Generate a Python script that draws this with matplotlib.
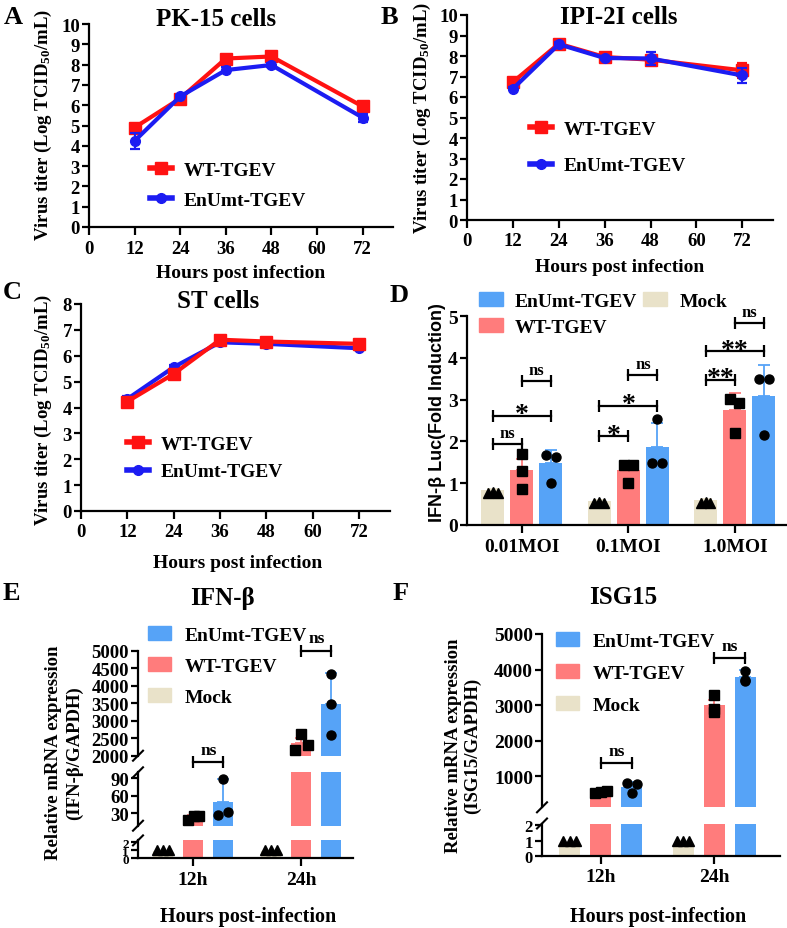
import matplotlib
matplotlib.use('Agg')
import matplotlib.pyplot as plt
from matplotlib.patches import Patch
from matplotlib.lines import Line2D
import numpy as np

# ---------------- data ----------------
hours = [12, 24, 36, 48, 72]

pk15_wt = [4.9, 6.33, 8.3, 8.4, 5.94]
pk15_wt_sd = [0.1, 0.1, 0.1, 0.08, 0.1]
pk15_mut = [4.24, 6.43, 7.73, 7.98, 5.39]
pk15_mut_sd = [0.4, 0.08, 0.15, 0.08, 0.2]

ipi_wt = [6.73, 8.6, 7.95, 7.82, 7.3]
ipi_wt_sd = [0.1, 0.1, 0.08, 0.15, 0.35]
ipi_mut = [6.4, 8.57, 7.9, 7.88, 7.05]
ipi_mut_sd = [0.08, 0.1, 0.08, 0.33, 0.38]

st_wt = [4.23, 5.3, 6.62, 6.55, 6.46]
st_wt_sd = [0.1, 0.15, 0.08, 0.06, 0.08]
st_mut = [4.33, 5.56, 6.52, 6.46, 6.29]
st_mut_sd = [0.12, 0.08, 0.05, 0.05, 0.05]

moi = ['0.01MOI', '0.1MOI', '1.0MOI']
d_mock = [0.83, 0.57, 0.59]
d_mock_sd = [0.03, 0.02, 0.03]
d_mock_pts = [[0.77, 0.80, 0.76], [0.53, 0.55, 0.53], [0.53, 0.56, 0.53]]
d_mock_jit = [[-0.22, 0.0, 0.2], [-0.22, 0.0, 0.2], [-0.22, 0.0, 0.2]]
d_wt = [1.31, 1.32, 2.74]
d_wt_sd = [0.28, 0.21, 0.42]
d_wt_pts = [[1.71, 1.28, 0.87], [1.44, 1.44, 1.01], [3.01, 2.93, 2.21]]
d_wt_jit = [[0.0, 0.0, 0.0], [-0.18, 0.2, 0.0], [-0.2, 0.2, 0.0]]
d_mut = [1.48, 1.86, 3.09]
d_mut_sd = [0.31, 0.58, 0.74]
d_mut_pts = [[1.67, 1.63, 1.01], [2.54, 1.48, 1.49], [3.5, 3.5, 2.15]]
d_mut_jit = [[-0.22, 0.22, 0.0], [0.0, -0.22, 0.2], [-0.22, 0.22, 0.0]]
# (group, bar i, bar j, height, label)
d_brackets = [(0, 0, 1, 1.93, 'ns'), (0, 0, 2, 2.61, '*'), (0, 1, 2, 3.44, 'ns'),
              (1, 0, 1, 2.13, '*'), (1, 0, 2, 2.85, '*'), (1, 1, 2, 3.6, 'ns'),
              (2, 0, 1, 3.48, '**'), (2, 0, 2, 4.16, '**'), (2, 1, 2, 4.84, 'ns')]

times = ['12h', '24h']
e_mock = [0.9, 0.9]
e_mock_sd = [0.05, 0.05]
e_mock_pts = [[1.0, 1.0, 1.0], [1.0, 1.0, 1.0]]
e_mock_jit = [[-0.3, 0.0, 0.3], [-0.3, 0.0, 0.3]]
e_wt = [24, 2360]
e_wt_sd = [4, 140]
e_wt_pts = [[18, 25, 26], [2160, 2620, 2305]]
e_wt_jit = [[-0.25, 0.05, 0.3], [-0.3, 0.0, 0.35]]
e_mut = [50, 3470]
e_mut_sd = [38, 880]
e_mut_pts = [[88, 27, 33], [4330, 3476, 2590]]
e_mut_jit = [[0.0, -0.25, 0.25], [0.0, 0.0, 0.0]]
e_brackets = [(0, 1, 2, 1810, 'ns'), (1, 1, 2, 5000, 'ns')]

f_mock = [0.8, 0.8]
f_mock_sd = [0.05, 0.05]
f_mock_pts = [[1.0, 1.0, 1.0], [1.0, 1.0, 1.0]]
f_mock_jit = [[-0.3, 0.0, 0.3], [-0.3, 0.0, 0.3]]
f_wt = [570, 3000]
f_wt_sd = [60, 150]
f_wt_pts = [[540, 600, 570], [3280, 2900, 2800]]
f_wt_jit = [[-0.3, 0.3, 0.0], [0.0, 0.0, 0.0]]
f_mut = [700, 3780]
f_mut_sd = [150, 220]
f_mut_pts = [[800, 790, 520], [3960, 3700, 3680]]
f_mut_jit = [[-0.25, 0.25, 0.0], [0.0, 0.0, 0.0]]
f_brackets = [(0, 1, 2, 1375, 'ns'), (1, 1, 2, 4316, 'ns')]

# ---------------- style ----------------
W, H = 787, 929
RED_LINE = '#FF1212'
BLUE_LINE = '#1C1CF2'
BAR_BLUE = '#56A3F7'
BAR_RED = '#FF7C7C'
BAR_BEIGE = '#E9E2C9'

plt.rcParams.update({
    'font.family': ['Liberation Serif', 'DejaVu Serif'],
    'font.weight': 'bold',
    'axes.labelweight': 'bold',
    'axes.linewidth': 1.6,
    'mathtext.fontset': 'custom',
    'mathtext.rm': 'Liberation Serif:bold',
    'mathtext.bf': 'Liberation Serif:bold',
    'mathtext.it': 'Liberation Serif:bold:italic',
})

fig = plt.figure(figsize=(W / 100, H / 100), dpi=100)


def rect(l, t, r, b):
    return [l / W, 1 - b / H, (r - l) / W, (b - t) / H]


def ftext(x, y, s, **kw):
    kw.setdefault('ha', 'center')
    kw.setdefault('va', 'center')
    return fig.text(x / W, 1 - y / H, s, **kw)


def fig_pt(x, y):
    return (x / W, 1 - y / H)


def label_px(ax, which, x, y):
    pos = ax.get_position()
    fx, fy = fig_pt(x, y)
    cx = (fx - pos.x0) / pos.width
    cy = (fy - pos.y0) / pos.height
    if which == 'x':
        ax.xaxis.set_label_coords(cx, cy)
    else:
        ax.yaxis.set_label_coords(cx, cy)


def style(ax, bottom=True, xsize=13, ysize=13):
    ax.spines['top'].set_visible(False)
    ax.spines['right'].set_visible(False)
    ax.patch.set_alpha(0)
    ax.tick_params(axis='x', direction='out', width=1.6, length=6, labelsize=xsize, pad=3)
    ax.tick_params(axis='y', direction='out', width=1.6, length=5, labelsize=ysize, pad=1.5)
    if not bottom:
        ax.spines['bottom'].set_visible(False)
        ax.tick_params(axis='x', bottom=False, labelbottom=False)


# ---------------- line panels ----------------
def line_panel(box, wt, wt_sd, mut, mut_sd, ymax, wt_front, leg_xy, leg_sp, ylab_xy, xlab_xy):
    ax = fig.add_axes(rect(*box))
    zw, zm = (4, 3) if wt_front else (3, 4)
    ax.errorbar(hours, wt, yerr=wt_sd, color=RED_LINE, lw=3, marker='s', ms=8,
                capsize=3.5, elinewidth=1.6, capthick=1.6, zorder=zw, clip_on=False)
    ax.errorbar(hours, mut, yerr=mut_sd, color=BLUE_LINE, lw=3, marker='o', ms=7,
                capsize=3.5, elinewidth=1.6, capthick=1.6, zorder=zm, clip_on=False)
    ax.set_xlim(0, 80)
    ax.set_ylim(0, ymax)
    ax.set_xticks(np.arange(0, 73, 12))
    ax.set_yticks(np.arange(0, ymax + 1))
    style(ax, xsize=13.5, ysize=13.5)
    ax.set_xlabel('Hours post infection', fontsize=14, va='center')
    ax.set_ylabel(r'Virus titer (Log TCID$_{50}$/mL)', fontsize=13.5, va='center')
    label_px(ax, 'x', *xlab_xy)
    label_px(ax, 'y', *ylab_xy)
    handles = [Line2D([], [], color=RED_LINE, lw=4, marker='s', ms=8),
               Line2D([], [], color=BLUE_LINE, lw=4, marker='o', ms=7)]
    ax.legend(handles, ['WT-TGEV', 'EnUmt-TGEV'], loc='center left',
              bbox_to_anchor=fig_pt(*leg_xy), bbox_transform=fig.transFigure,
              frameon=False, borderpad=0, borderaxespad=0, handlelength=1.15,
              handletextpad=0.6, labelspacing=leg_sp, prop={'size': 14, 'weight': 'bold'})
    return ax


line_panel((89, 25, 393, 228), pk15_wt, pk15_wt_sd, pk15_mut, pk15_mut_sd, 10, False,
           (150, 186), 0.65, (43, 125), (241, 273))
line_panel((467, 16, 773, 221), ipi_wt, ipi_wt_sd, ipi_mut, ipi_mut_sd, 10, False,
           (530, 148.5), 0.95, (422, 118), (620, 267))
line_panel((81, 305, 390, 512), st_wt, st_wt_sd, st_mut, st_mut_sd, 8, True,
           (127, 459), 0.5, (43, 410), (238, 563))

ftext(216, 20, 'PK-15 cells', fontsize=18)
ftext(619, 18, 'IPI-2I cells', fontsize=18)
ftext(218, 302, 'ST cells', fontsize=18)


# ---------------- bar helpers ----------------
def draw_bars(ax, xg, off, wd, series, ylim, ms=6):
    lo, hi = ylim
    for k, (vals, sds, pts, jit, col, mk) in enumerate(series):
        xs = xg + off[k]
        ax.bar(xs, vals, width=wd, color=col, zorder=1)
        ax.errorbar(xs, vals, yerr=[np.zeros(len(vals)), sds], fmt='none', ecolor=col,
                    elinewidth=1.3, capsize=4, capthick=1.3, zorder=2)
        for g in range(len(vals)):
            px = xs[g] + np.array(jit[g]) * wd
            py = np.array(pts[g], dtype=float)
            keep = (py >= lo) & (py <= hi)
            if keep.any():
                ax.plot(px[keep], py[keep], linestyle='none', marker=mk,
                        color='black', ms=ms, zorder=3)


def draw_brackets(ax, xg, off, brackets, fs_ns, fs_star, ns_off, star_off):
    for g, i, j, y, lab in brackets:
        x1, x2 = xg[g] + off[i], xg[g] + off[j]
        ax.plot([x1, x2], [y, y], color='black', lw=1.6, marker='|', ms=9, mew=1.6,
                clip_on=False, zorder=5)
        if lab == 'ns':
            ax.annotate(lab, xy=((x1 + x2) / 2, y), xytext=(0, ns_off), textcoords='offset points',
                        ha='center', va='baseline', fontsize=fs_ns, annotation_clip=False)
        else:
            ax.annotate(lab, xy=((x1 + x2) / 2, y), xytext=(0, star_off), textcoords='offset points',
                        ha='center', va='baseline', fontsize=fs_star, annotation_clip=False)


# ---------------- panel D ----------------
axd = fig.add_axes(rect(467, 317, 787, 526))
xd = np.arange(len(moi))
off_d = [-0.272, 0.0, 0.272]
wd_d = 0.216
series_d = [(d_mock, d_mock_sd, d_mock_pts, d_mock_jit, BAR_BEIGE, '^'),
            (d_wt, d_wt_sd, d_wt_pts, d_wt_jit, BAR_RED, 's'),
            (d_mut, d_mut_sd, d_mut_pts, d_mut_jit, BAR_BLUE, 'o')]
draw_bars(axd, xd, off_d, wd_d, series_d, (0, 5), ms=6.5)
axd.set_xlim(-0.516, 2.49)
axd.set_ylim(0, 5)
axd.set_xticks(xd, moi)
axd.set_yticks(np.arange(0, 6))
style(axd, xsize=14, ysize=14)
draw_brackets(axd, xd, off_d, d_brackets, 12, 20, 5, -4)
axd.set_ylabel('IFN-β Luc(Fold Induction)', fontsize=13, fontfamily='Liberation Sans',
               fontweight='bold', va='center')
label_px(axd, 'y', 437, 413)
axd.legend(handles=[Patch(color=BAR_BLUE, label='EnUmt-TGEV'),
                    Patch(color=BAR_RED, label='WT-TGEV'),
                    Patch(color=BAR_BEIGE, label='Mock')],
           ncol=2, loc='center left', bbox_to_anchor=fig_pt(479, 315),
           bbox_transform=fig.transFigure, frameon=False, borderpad=0, borderaxespad=0,
           handlelength=1.25, handleheight=0.75, handletextpad=0.6, labelspacing=0.4,
           columnspacing=0.3, prop={'size': 14, 'weight': 'bold'})


# ---------------- broken panels E / F ----------------
def break_mark(x, y):
    xs = [(x - 5) / W, (x + 5) / W]
    ys = [1 - (y + 5) / H, 1 - (y - 5) / H]
    fig.add_artist(Line2D(xs, ys, color='black', lw=1.5, transform=fig.transFigure))


def broken_panel(boxes, xlim, off, wd, series, labels, brackets, legend_xy, leg_sp):
    xg = np.arange(len(labels))
    axes = []
    for i, (l, t, r, b, yl, yt, ys) in enumerate(boxes):
        ax = fig.add_axes(rect(l, t, r, b))
        draw_bars(ax, xg, off, wd, series, yl, ms=6.5)
        ax.set_xlim(*xlim)
        ax.set_ylim(*yl)
        ax.set_yticks(yt)
        style(ax, bottom=(i == 0), xsize=14, ysize=ys)
        axes.append(ax)
        if i > 0:
            break_mark(l, b)
        if i < len(boxes) - 1:
            break_mark(l, t)
    axes[0].set_xticks(xg, labels)
    draw_brackets(axes[-1], xg, off, brackets, 12.5, 16, 6, 0)
    axes[-1].legend(handles=[Patch(color=BAR_BLUE, label='EnUmt-TGEV'),
                             Patch(color=BAR_RED, label='WT-TGEV'),
                             Patch(color=BAR_BEIGE, label='Mock')],
                    loc='center left', bbox_to_anchor=fig_pt(*legend_xy),
                    bbox_transform=fig.transFigure, frameon=False, borderpad=0,
                    borderaxespad=0, handlelength=1.2, handleheight=0.7,
                    handletextpad=0.7, labelspacing=leg_sp,
                    prop={'size': 14, 'weight': 'bold'})
    return axes


boxes_e = [(138, 841.4, 353, 859.3, (0, 2.25), [0, 1, 2], 9.5),
           (138, 773.3, 353, 826.7, (9, 100), [30, 60, 90], 13.5),
           (138, 651.7, 353, 756.7, (2000, 5000), np.arange(2000, 5001, 500), 13.5)]
series_e = [(e_mock, e_mock_sd, e_mock_pts, e_mock_jit, BAR_BEIGE, '^'),
            (e_wt, e_wt_sd, e_wt_pts, e_wt_jit, BAR_RED, 's'),
            (e_mut, e_mut_sd, e_mut_pts, e_mut_jit, BAR_BLUE, 'o')]
axes_e = broken_panel(boxes_e, (-0.51, 1.48), [-0.28, 0.0, 0.28], 0.185, series_e, times,
                      e_brackets, (148, 667), 0.7)

boxes_f = [(542, 824.5, 780, 857, (0, 2.1), [0, 1, 2], 12),
           (542, 635, 780, 808.3, (130, 5000), np.arange(1000, 5001, 1000), 14)]
series_f = [(f_mock, f_mock_sd, f_mock_pts, f_mock_jit, BAR_BEIGE, '^'),
            (f_wt, f_wt_sd, f_wt_pts, f_wt_jit, BAR_RED, 's'),
            (f_mut, f_mut_sd, f_mut_pts, f_mut_jit, BAR_BLUE, 'o')]
axes_f = broken_panel(boxes_f, (-0.518, 1.58), [-0.274, 0.0, 0.274], 0.183, series_f, times,
                      f_brackets, (556, 674), 0.75)

for axs, xl in ((axes_e, (248, 917)), (axes_f, (658, 917))):
    axs[0].set_xlabel('Hours post-infection', fontsize=14.5, va='center')
    label_px(axs[0], 'x', *xl)

ftext(64, 753, 'Relative mRNA expression\n(IFN-β/GAPDH)', fontsize=13.5, rotation=90,
      linespacing=1.35)
ftext(463, 746, 'Relative mRNA expression\n(ISG15/GAPDH)', fontsize=13.5, rotation=90,
      linespacing=1.15)
ftext(222, 598, 'IFN-β', fontsize=18)
ftext(623, 598, 'ISG15', fontsize=18)

# panel letters
for s, x, y in (('A', 13, 17), ('B', 389, 17), ('C', 12, 293), ('D', 399, 295),
                ('E', 11, 594), ('F', 401, 594)):
    ftext(x, y, s, fontsize=19)

fig.savefig('out.png', dpi=100)
